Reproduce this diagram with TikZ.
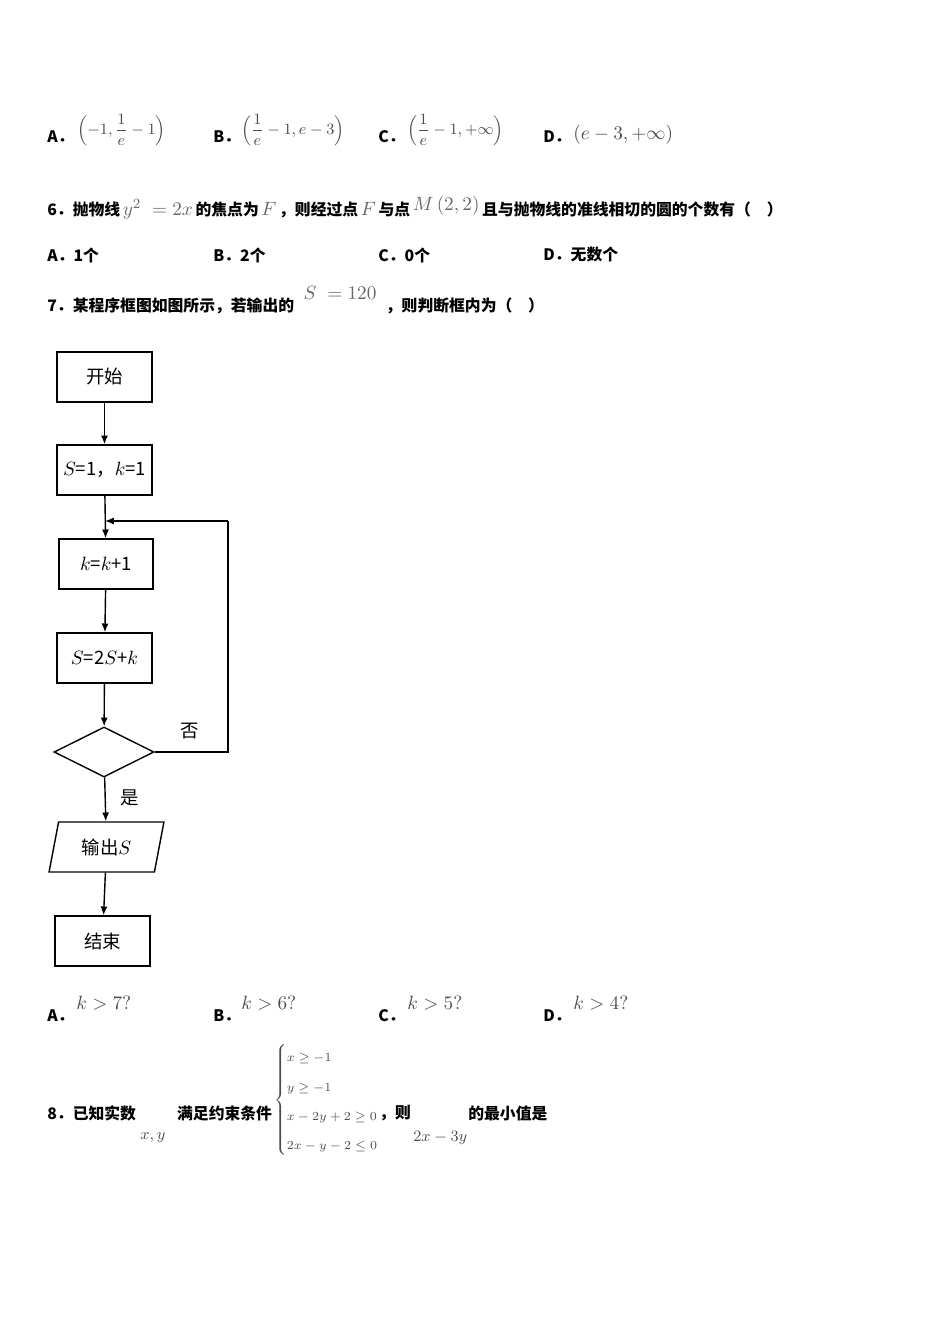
\documentclass[tikz,border=0pt]{standalone}
\usepackage{amsmath}
\usepackage{amssymb}
\usepackage{fontspec}
\newfontfamily\cjk{Noto Sans CJK SC}
\usetikzlibrary{shapes.geometric,arrows.meta}
\newcommand{\gm}[1]{\textcolor{black!60}{\fontsize{11}{12}\selectfont$#1$}}
\tikzset{
  q/.style={anchor=west,inner sep=0pt,font=\cjk\bfseries\fontsize{9}{10}\selectfont},
  m/.style={anchor=west,inner sep=0pt,text=black!70,font=\fontsize{9.5}{10}\selectfont},
  box/.style={draw,thick,minimum width=0.2cm,font=\cjk\fontsize{10.5}{12}\selectfont},
  flow/.style={-{Latex[length=5pt,width=4pt]},thick}
}
\begin{document}
\begin{tikzpicture}[x=0.02cm,y=-0.02cm]
    \useasboundingbox (0,0) rectangle (950,1344);
    % Question 5 options
    \node[q] (a5) at (47,137) {A．};
    \node[m] (a5m) at (77,130) {$\left(-1,\dfrac{1}{e}-1\right)$};
    \node[q] (b5) at (213,137) {B．};
    \node[m] (b5m) at (241,130) {$\left(\dfrac{1}{e}-1,e-3\right)$};
    \node[q] (c5) at (378,137) {C．};
    \node[m] (c5m) at (407,130) {$\left(\dfrac{1}{e}-1,+\infty\right)$};
    \node[q] (d5) at (543,137) {D．};
    \node[m,font=\fontsize{11}{12}\selectfont] (d5m) at (573,135) {$(e-3,+\infty)$};
    % Question 6
    \node[q] (q6) at (47,208) {6．抛物线\,\gm{y^2\;=2x}\,的焦点为\,\gm{F}\,，则经过点\,\gm{F}\,与点\,\raisebox{3pt}{\gm{M\,(2,2)}}\,且与抛物线的准线相切的圆的个数有（\quad ）};
    \node[q] (a6) at (47,255) {A．1个};
    \node[q] (b6) at (213,255) {B．2个};
    \node[q] (c6) at (378,255) {C．0个};
    \node[q] (d6) at (543,255) {D．无数个};
    % Question 7
    \node[q] (q7) at (47,300) {7．某程序框图如图所示，若输出的\hspace{0.6em}\raisebox{7pt}{\gm{S\;=120}}\hspace{0.6em}，则判断框内为（\quad ）};
    % Flowchart
    \node[box,minimum width=95*0.02cm,minimum height=50*0.02cm] (start) at (104.5,377) {开始};
    \node[box,minimum width=95*0.02cm,minimum height=50*0.02cm] (init) at (104.5,470) {$S$=1，$k$=1};
    \node[box,minimum width=94*0.02cm,minimum height=50*0.02cm] (inc) at (106,564) {$k$=$k$+1};
    \node[box,minimum width=95*0.02cm,minimum height=50*0.02cm] (upd) at (104.5,658) {$S$=2$S$+$k$};
    \node[draw,thick,diamond,aspect=2,minimum width=100*0.02cm,minimum height=50*0.02cm,inner sep=0pt] (cond) at (104,752) {};
    \node[box,trapezium,trapezium left angle=78,trapezium right angle=102,minimum width=115*0.02cm,minimum height=50*0.02cm,trapezium stretches=true] (out) at (106.5,847) {输出$S$};
    \node[box,minimum width=95*0.02cm,minimum height=50*0.02cm] (stop) at (102.5,941) {结束};
    \coordinate (c1) at (228,752);
    \coordinate (c2) at (228,521);
    \coordinate (c3) at (105,521);
    \draw[flow] (start) -- (init);
    \draw[flow] (init) -- (inc);
    \draw[flow] (inc) -- (upd);
    \draw[flow] (upd) -- (cond);
    \draw[flow] (cond) -- (out);
    \draw[flow] (out) -- (stop);
    \draw[thick] (cond.east) -- (c1) -- (c2);
    \draw[flow] (c2) -- (c3);
    \node[font=\cjk\fontsize{10.5}{12}\selectfont] (no) at (190,731) {否};
    \node[font=\cjk\fontsize{10.5}{12}\selectfont] (yes) at (130,798) {是};
    % Question 7 options
    \node[q] (a7) at (47,1016) {A．};
    \node[m,font=\fontsize{11}{12}\selectfont] (a7m) at (76,1003) {$k>7?$};
    \node[q] (b7) at (213,1016) {B．};
    \node[m,font=\fontsize{11}{12}\selectfont] (b7m) at (241,1003) {$k>6?$};
    \node[q] (c7) at (378,1016) {C．};
    \node[m,font=\fontsize{11}{12}\selectfont] (c7m) at (407,1003) {$k>5?$};
    \node[q] (d7) at (543,1016) {D．};
    \node[m,font=\fontsize{11}{12}\selectfont] (d7m) at (573,1003) {$k>4?$};
    % Question 8
    \node[q] (q8) at (47,1113) {8．已知实数\hspace{2.6em}满足约束条件};
    \node[m] (xy) at (140,1138) {$x,y$};
    \node[m,font=\fontsize{7.5}{9}\selectfont] (sys) at (274,1100) {\renewcommand{\arraystretch}{1.85}$\left\{\begin{array}{@{}l@{}}x\geq -1\\ y\geq -1\\ x-2y+2\geq 0\\ 2x-y-2\leq 0\end{array}\right.$};
    \node[q] (q8b) at (379,1113) {，则};
    \node[m] (obj) at (413,1138) {$2x-3y$};
    \node[q] (q8c) at (468,1113) {的最小值是};
\end{tikzpicture}
\end{document}
